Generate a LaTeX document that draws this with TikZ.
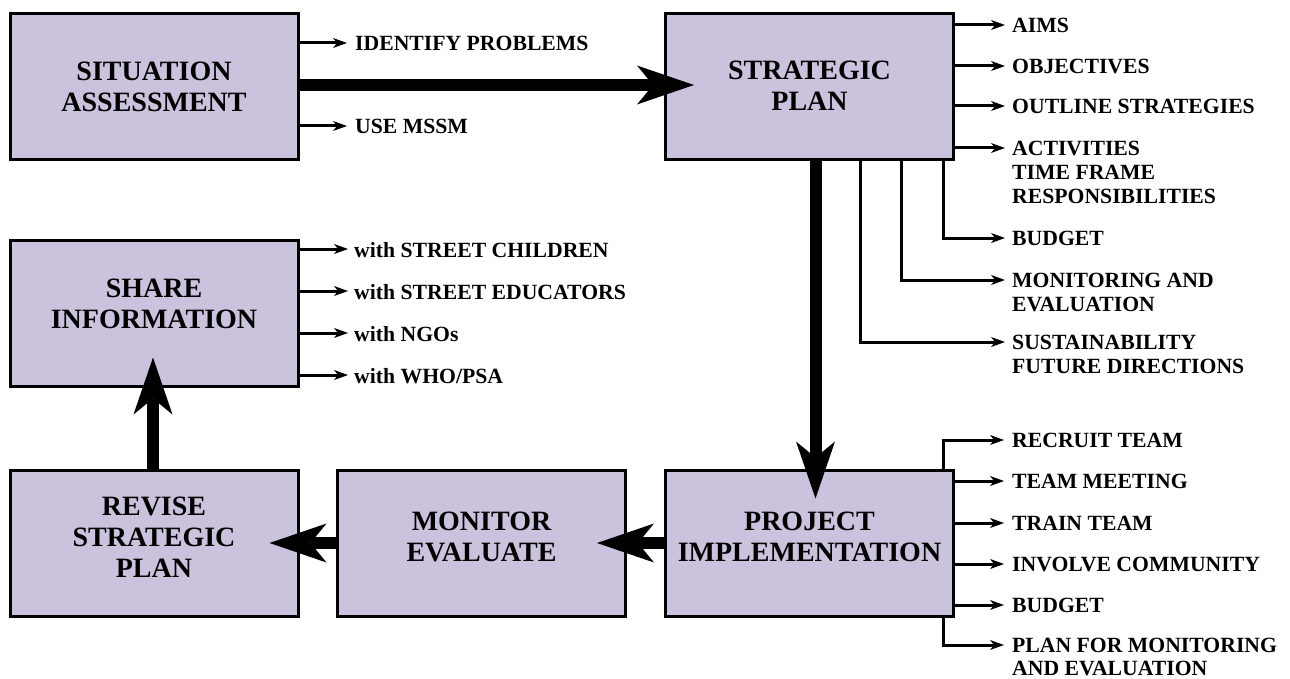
\documentclass[tikz,border=0pt]{standalone}
\usepackage{fontspec}
\setmainfont{Liberation Serif}
\usetikzlibrary{arrows.meta,calc}
\definecolor{boxfill}{RGB}{203,195,221}
\newcommand\bxt[2]{\raisebox{#1}[\height][\depth]{\begin{tabular}{@{}c@{}}#2\end{tabular}}}
\begin{document}
\begin{tikzpicture}[x=1pt,y=-1pt,
 box/.style={draw=black, line width=3pt, fill=boxfill, minimum width=288pt, minimum height=146pt, inner sep=0pt, font=\fontsize{28}{31}\selectfont\bfseries},
 lbl/.style={inner sep=0pt, anchor=north west, align=left, font=\fontsize{21.7}{24}\selectfont\bfseries},
 big/.style={line width=12pt, -{Stealth[length=57pt,width=39pt,inset=16pt,line width=0pt]}, shorten >=-30pt},
 small/.style={line width=3pt, -{Stealth[length=14pt,width=10pt,inset=4pt,line width=0pt]}}]
\useasboundingbox (0,0) rectangle (1290,679);

% boxes
\node[box] (sa)  at (154,87)    {\bxt{-3pt}{SITUATION\\ASSESSMENT}};
\node[box] (sp)  at (809.5,87)  {\bxt{-1.5pt}{STRATEGIC\\PLAN}};
\node[box] (si)  at (154,313)   {\bxt{6pt}{SHARE\\INFORMATION}};
\node[box] (rsp) at (154,543)   {\bxt{3pt}{REVISE\\STRATEGIC\\PLAN}};
\node[box] (me)  at (481.5,543) {\bxt{3pt}{MONITOR\\EVALUATE}};
\node[box] (pi)  at (809.5,543) {\bxt{3pt}{PROJECT\\IMPLEMENTATION}};

% big arrows
\draw[big] ([yshift=2pt]sa.east) -- ([yshift=2pt]sp.west);
\draw[big] ([xshift=6pt]sp.south) -- ([xshift=6pt]pi.north);
\draw[big] (pi.west) -- (me.east);
\draw[big] (me.west) -- (rsp.east);
\draw[big] ([xshift=-1pt]rsp.north) -- ([xshift=-1pt]si.south);

% situation assessment outputs
\coordinate (saA1) at (347,43);
\coordinate (saA2) at (347,126);
\node[lbl] (saL1) at ([xshift=8pt,yshift=7.1pt]saA1) {IDENTIFY PROBLEMS};
\node[lbl] (saL2) at ([xshift=8pt,yshift=7.1pt]saA2) {USE MSSM};
\draw[small] (sa.east |- saA1) -- (saA1);
\draw[small] (sa.east |- saA2) -- (saA2);

% strategic plan outputs
\coordinate (spA1) at (1005,25);
\coordinate (spA2) at (1005,66);
\coordinate (spA3) at (1005,106);
\coordinate (spA4) at (1005,148);
\coordinate (spA5) at (1005,238);
\coordinate (spA6) at (1005,280);
\coordinate (spA7) at (1005,342);
\node[lbl] (spL1) at ([xshift=7pt,yshift=7.1pt]spA1) {AIMS};
\node[lbl] (spL2) at ([xshift=7pt,yshift=7.1pt]spA2) {OBJECTIVES};
\node[lbl] (spL3) at ([xshift=7pt,yshift=7.1pt]spA3) {OUTLINE STRATEGIES};
\node[lbl] (spL4) at ([xshift=7pt,yshift=7.1pt]spA4) {ACTIVITIES\\TIME FRAME\\RESPONSIBILITIES};
\node[lbl] (spL5) at ([xshift=7pt,yshift=7.1pt]spA5) {BUDGET};
\node[lbl] (spL6) at ([xshift=7pt,yshift=7.1pt]spA6) {MONITORING AND\\EVALUATION};
\node[lbl] (spL7) at ([xshift=7pt,yshift=7.1pt]spA7) {SUSTAINABILITY\\FUTURE DIRECTIONS};
\draw[small] (sp.east |- spA1) -- (spA1);
\draw[small] (sp.east |- spA2) -- (spA2);
\draw[small] (sp.east |- spA3) -- (spA3);
\draw[small] (sp.east |- spA4) -- (spA4);
\draw[small] ([xshift=133.5pt]sp.south) |- (spA5);
\draw[small] ([xshift=91.5pt]sp.south) |- (spA6);
\draw[small] ([xshift=50.5pt]sp.south) |- (spA7);

% share information outputs
\coordinate (siA1) at (348,249);
\coordinate (siA2) at (348,291);
\coordinate (siA3) at (348,333);
\coordinate (siA4) at (348,375);
\node[lbl] (siL1) at ([xshift=6pt,yshift=7.1pt]siA1) {with STREET CHILDREN};
\node[lbl] (siL2) at ([xshift=6pt,yshift=7.1pt]siA2) {with STREET EDUCATORS};
\node[lbl] (siL3) at ([xshift=6pt,yshift=7.1pt]siA3) {with NGOs};
\node[lbl] (siL4) at ([xshift=6pt,yshift=7.1pt]siA4) {with WHO/PSA};
\draw[small] (si.east |- siA1) -- (siA1);
\draw[small] (si.east |- siA2) -- (siA2);
\draw[small] (si.east |- siA3) -- (siA3);
\draw[small] (si.east |- siA4) -- (siA4);

% project implementation outputs
\coordinate (piA1) at (1004,440);
\coordinate (piA2) at (1004,481);
\coordinate (piA3) at (1004,523);
\coordinate (piA4) at (1004,564);
\coordinate (piA5) at (1004,605);
\coordinate (piA6) at (1004,645);
\node[lbl] (piL1) at ([xshift=8pt,yshift=7.1pt]piA1) {RECRUIT TEAM};
\node[lbl] (piL2) at ([xshift=8pt,yshift=7.1pt]piA2) {TEAM MEETING};
\node[lbl] (piL3) at ([xshift=8pt,yshift=7.1pt]piA3) {TRAIN TEAM};
\node[lbl] (piL4) at ([xshift=8pt,yshift=7.1pt]piA4) {INVOLVE COMMUNITY};
\node[lbl] (piL5) at ([xshift=8pt,yshift=7.1pt]piA5) {BUDGET};
\node[lbl,font=\fontsize{21.7}{23}\selectfont\bfseries] (piL6) at ([xshift=8pt,yshift=7.1pt]piA6) {PLAN FOR MONITORING\\AND EVALUATION};
\draw[small] ([xshift=133.5pt]pi.north) |- (piA1);
\draw[small] (pi.east |- piA2) -- (piA2);
\draw[small] (pi.east |- piA3) -- (piA3);
\draw[small] (pi.east |- piA4) -- (piA4);
\draw[small] (pi.east |- piA5) -- (piA5);
\draw[small] ([xshift=133.5pt]pi.south) |- (piA6);
\end{tikzpicture}
\end{document}
